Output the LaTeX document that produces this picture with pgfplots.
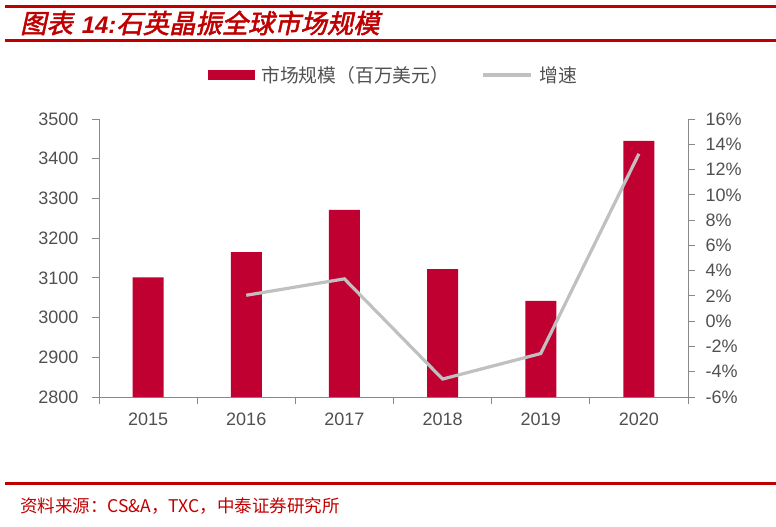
\documentclass[border=0pt]{standalone}
\usepackage{fontspec}
\setmainfont{Liberation Sans}
\newfontfamily\cjk{Noto Sans CJK SC}
\newfontfamily\cjktitle[FakeSlant=0.22,FakeBold=2]{Noto Sans CJK SC}
\usepackage{pgfplots}
\pgfplotsset{compat=1.18}
\definecolor{barred}{HTML}{C00030}
\definecolor{titlered}{HTML}{C00000}
\definecolor{linegray}{HTML}{C0C0C0}
\definecolor{axisgray}{HTML}{898989}
\definecolor{ticktext}{HTML}{505050}
\begin{document}
\begin{tikzpicture}
\path[use as bounding box] (0pt,0pt) rectangle (776pt,-527pt);
\fill[titlered] (5pt,-5.5pt) rectangle (776pt,-8.5pt);
\fill[titlered] (5pt,-39pt) rectangle (776pt,-41.8pt);
\fill[titlered] (5pt,-481.5pt) rectangle (776pt,-484.5pt);
\node[anchor=west,inner sep=0pt,text=titlered] at (20pt,-23pt)
  {\cjktitle\fontsize{26.3}{28}\selectfont 图表\hspace{9pt}{\normalfont\fontsize{24}{28}\selectfont\bfseries\itshape 14:}石英晶振全球市场规模};
\node[anchor=west,inner sep=0pt,text=titlered] at (20pt,-506pt)
  {\cjk\fontsize{17.5}{20}\selectfont 资料来源：CS\&A，TXC，中泰证券研究所};

\begin{axis}[
  at={(99pt,-397pt)}, anchor=south west,
  width=589pt, height=278pt, scale only axis,
  xmin=-0.5, xmax=5.5, ymin=2800, ymax=3500,
  axis x line*=bottom, axis y line*=left,
  axis line style={-, draw=axisgray, line width=1pt},
  ytick={2800,2900,...,3500},
  tick align=outside, major tick length=7pt,
  tick style={draw=axisgray, line width=1pt},
  xtick={-0.5,0.5,...,5.5}, xticklabels={},
  extra x ticks={0,1,2,3,4,5},
  extra x tick labels={2015,2016,2017,2018,2019,2020},
  extra x tick style={major tick length=0pt},
  ticklabel style={font=\fontsize{18}{20}\selectfont, text=ticktext},
  xticklabel style={yshift=-12pt},
  yticklabel style={xshift=-10pt},
  /pgf/number format/assume math mode=true,
  /pgf/number format/1000 sep={},
  ybar, bar width=31pt,
]
\addplot[fill=barred, draw=none] coordinates {(0,3101) (1,3165) (2,3271) (3,3122) (4,3042) (5,3445)};
\end{axis}

\begin{axis}[
  at={(99pt,-397pt)}, anchor=south west,
  width=589pt, height=278pt, scale only axis,
  xmin=-0.5, xmax=5.5, ymin=-6, ymax=16,
  axis x line=none, axis y line*=right,
  axis line style={-, draw=axisgray, line width=1pt},
  tick align=outside, major tick length=7pt,
  tick style={draw=axisgray, line width=1pt},
  ytick={-6,-4,...,16},
  yticklabels={-6\%,-4\%,-2\%,0\%,2\%,4\%,6\%,8\%,10\%,12\%,14\%,16\%},
  ticklabel style={font=\fontsize{18}{20}\selectfont, text=ticktext},
  yticklabel style={xshift=7pt},
  legend columns=2,
  legend style={draw=none, fill=none, at={(0.5,1.158)}, anchor=center,
    font=\cjk\fontsize{18.8}{20}\selectfont, text=ticktext,
    /tikz/every even column/.append style={column sep=30pt}},
]
\addlegendimage{legend image code/.code={\fill[barred] (0pt,-4.5pt) rectangle (46pt,4.5pt);\path (51pt,0pt);}}
\addlegendentry{市场规模（百万美元）}
\addplot[linegray, line width=3.2pt,
  legend image code/.code={\draw[linegray, line width=3.2pt] (0pt,0pt) -- (48pt,0pt);\path (53pt,0pt);}]
  coordinates {(1,2.05) (2,3.35) (3,-4.58) (4,-2.56) (5,13.25)};
\addlegendentry{增速}
\end{axis}
\end{tikzpicture}
\end{document}
